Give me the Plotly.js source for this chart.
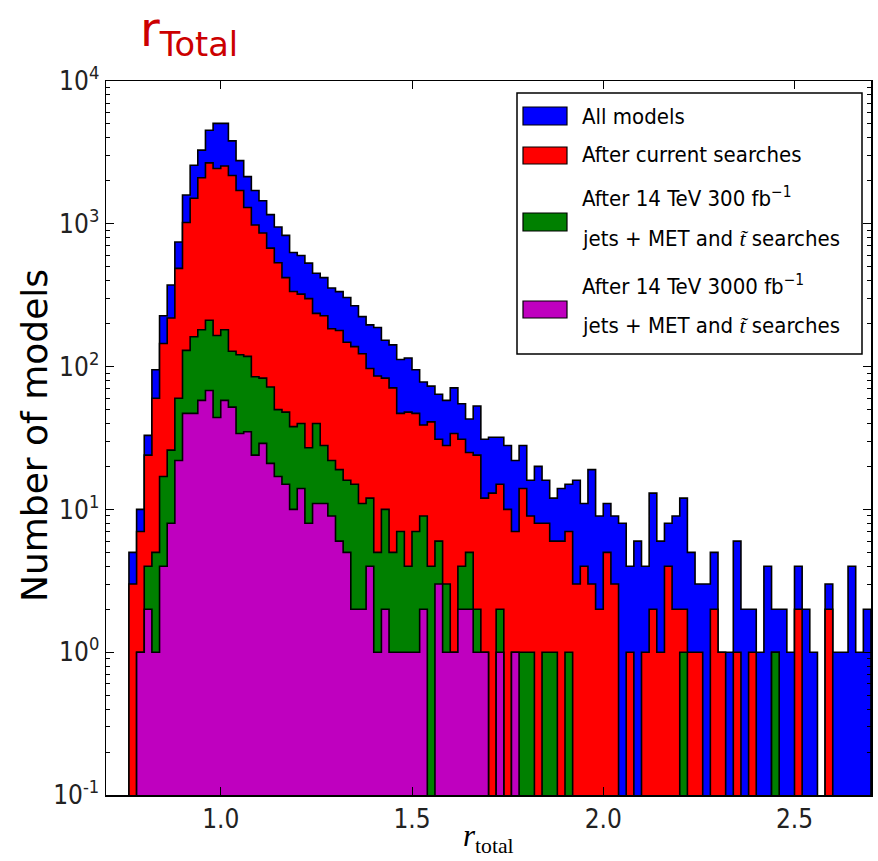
<!DOCTYPE html>
<html><head><meta charset="utf-8">
<script src="https://cdn.plot.ly/plotly-3.0.1.min.js"></script>
<style>html,body{margin:0;padding:0;background:#fff}#chart{width:878px;height:861px}</style>
</head><body><div id="chart"></div>
<script>
// ---- data: histogram of r_total, 97 bins of width 0.02 starting at 0.76 ----
const binStart = 0.76;
const binWidth = 0.02;
const allModels = [5,10,33,95,227,373,745,1590,2570,3280,4520,5050,5050,3810,2770,2140,1710,1450,1160,950,
  830,630,600,530,450,420,355,335,305,267,224,196,188,153,142,112,115,95,78,73,
  64,58,71,55,43,53,31,32,32,28,22,28,16,20,16,12,14,15,16,11,
  19,9,11,9,8,4,6,4,13,6,8,9,12,5,3,3,5,1,1,6,
  2,2,1,4,2,2,1,4,2,1,0,3,1,1,4,1,2];
const afterCurrent = [3,7,24,60,145,219,487,1020,1510,2100,2670,2440,2540,2180,1710,1300,980,863,676,533,
  420,336,322,299,236,227,184,179,148,138,123,97,86,83,71,47,48,47,39,41,
  31,28,34,31,25,24,12,13,15,10,7,14,9,8,8,6,6,7,3,4,
  3,2,5,3,0,1,0,1,2,1,4,2,2,1,1,0,2,1,0,1,
  0,1,0,0,1,0,0,2,0,0,0,2,0,0,0,0,0];
const after300 = [0,1,4,5,17,26,60,130,162,181,211,165,181,128,121,118,85,83,72,50,
  48,38,40,27,40,28,22,19,16,15,11,12,5,10,5,7,4,7,9,4,
  6,3,1,4,5,2,1,0,2,0,1,1,1,0,1,1,0,1,0,0,
  0,0,0,0,0,0,0,0,0,0,0,0,1,0,0,0,0,0,0,0,
  0,0,0,0,1,0,0,0,0,0,0,0,0,0,0,0,0];
const after3000 = [0,1,2,1,4,8,22,47,47,58,68,44,58,52,34,35,24,29,21,17,
  15,10,14,8,11,11,9,6,5,2,2,4,1,2,1,1,1,1,2,0,
  3,1,1,2,2,1,1,0,1,0,1,0,0,0,0,0,0,0,0,0,
  0,0,0,0,0,0,0,0,0,0,0,0,0,0,0,0,0,0,0,0,
  0,0,0,0,0,0,0,0,0,0,0,0,0,0,0,0,0];
const seriesNames = ['All models','After current searches',
  'After 14 TeV 300 fb−1, jets + MET and t̃ searches',
  'After 14 TeV 3000 fb−1, jets + MET and t̃ searches'];
const seriesColors = ['#0000ff','#ff0000','#008000','#bf00bf'];
const xTickVals = [1.0,1.5,2.0,2.5];
const xTickText = ['1.0','1.5','2.0','2.5'];
const yTickVals = [0.1,1,10,100,1000,10000];
const yTickText = ['10<sup>-1</sup>','10<sup>0</sup>','10<sup>1</sup>','10<sup>2</sup>','10<sup>3</sup>','10<sup>4</sup>'];

// ---- layout geometry (pixels) ----
const W = 878, H = 861;
const M = {l:106, r:7, t:81, b:66};
const PW = W - M.l - M.r, PH = H - M.t - M.b;
const px = v => (v - M.l) / PW;      // pixel x -> paper x
const py = v => (H - M.b - v) / PH;  // pixel y -> paper y

const FLOOR = 1e-3; // empty bins are drawn down below the axis (clipped)
function stepTrace(counts, color, name){
  const x = [binStart], y = [FLOOR];
  counts.forEach((c, i) => { x.push(binStart + i*binWidth); y.push(c > 0 ? c : FLOOR); });
  const last = counts[counts.length-1];
  const end = binStart + counts.length*binWidth;
  x.push(end); y.push(last > 0 ? last : FLOOR);
  x.push(end); y.push(FLOOR);
  return {type:'scatter', mode:'lines', name, x, y, fill:'toself', fillcolor:color,
    line:{shape:'hv', color:'#000', width:1.6}, hoverinfo:'skip', showlegend:false};
}
const allSeries = [allModels, afterCurrent, after300, after3000];
const traces = allSeries.map((s, i) => stepTrace(s, seriesColors[i], seriesNames[i]));

const minorVals = [];
for (let e = -1; e < 4; e++) for (let d = 2; d <= 9; d++) minorVals.push(d * Math.pow(10, e));

const tickFont = {family:'Liberation Sans Narrow, DejaVu Sans Condensed, sans-serif', size:26, color:'#222'};
const legFont = {family:'DejaVu Sans Condensed, DejaVu Sans, sans-serif', size:22, color:'#000'};

// ---- legend drawn by hand ----
const shapes = [{type:'rect', xref:'paper', yref:'paper', x0:px(517), x1:px(862), y0:py(93), y1:py(354),
  line:{color:'#000', width:1.5}, fillcolor:'#fff', layer:'above'}];
const patchY = [[107,125],[147,164],[213,231],[301,318]];
const textY = [[116],[155],[197,238],[285,325]];
const lines = [['All models'],['After current searches'],
  ['After 14 TeV 300 fb<sup>−1</sup>','jets + MET and <span style="font-family:Liberation Serif"><i>t̃</i></span> searches'],
  ['After 14 TeV 3000 fb<sup>−1</sup>','jets + MET and <span style="font-family:Liberation Serif"><i>t̃</i></span> searches']];
const annotations = [];
patchY.forEach((p, i) => {
  shapes.push({type:'rect', xref:'paper', yref:'paper', x0:px(523), x1:px(567), y0:py(p[1]), y1:py(p[0]),
    line:{color:'#000', width:1.2}, fillcolor:seriesColors[i], layer:'above'});
  lines[i].forEach((t, j) => annotations.push({xref:'paper', yref:'paper', x:px(580), y:py(textY[i][j]),
    xanchor:'left', yanchor:'middle', showarrow:false, text:t, font:legFont}));
});
annotations.push({xref:'paper', yref:'paper', x:px(34), y:py(436), textangle:-90, showarrow:false,
  xanchor:'center', yanchor:'middle', text:'Number of models',
  font:{family:'DejaVu Sans, sans-serif', size:36, color:'#000'}});
annotations.push({xref:'paper', yref:'paper', x:0.5, y:py(838), showarrow:false,
  xanchor:'center', yanchor:'middle', text:'<i>r</i><sub>total</sub>',
  font:{family:'Liberation Serif, serif', size:31, color:'#000'}});

const layout = {
  width:W, height:H, margin:M, paper_bgcolor:'#fff', plot_bgcolor:'#fff', showlegend:false,
  title:{text:'r<sub>Total</sub>', xref:'container', yref:'container', x:140/W, xanchor:'left',
    y:1-29/H, yanchor:'middle', font:{family:'DejaVu Sans, sans-serif', size:48, color:'#cc0000'}},
  xaxis:{range:[0.7,2.7], tickmode:'array', tickvals:xTickVals, ticktext:xTickText, ticks:'inside',
    ticklen:8, tickwidth:1, tickcolor:'#000', mirror:'allticks', showline:true, linecolor:'#000', linewidth:1.5,
    showgrid:false, zeroline:false, tickfont:tickFont},
  yaxis:{type:'log', range:[-1,4], tickmode:'array', tickvals:yTickVals, ticktext:yTickText, ticks:'inside',
    ticklen:8, tickwidth:1, tickcolor:'#000', mirror:'allticks', showline:true, linecolor:'#000', linewidth:1.5,
    showgrid:false, zeroline:false, tickfont:tickFont,
    minor:{tickmode:'array', tickvals:minorVals, ticks:'inside', ticklen:4, tickcolor:'#000', showgrid:false}},
  shapes, annotations
};
Plotly.newPlot('chart', traces, layout, {staticPlot:true});
</script></body></html>
